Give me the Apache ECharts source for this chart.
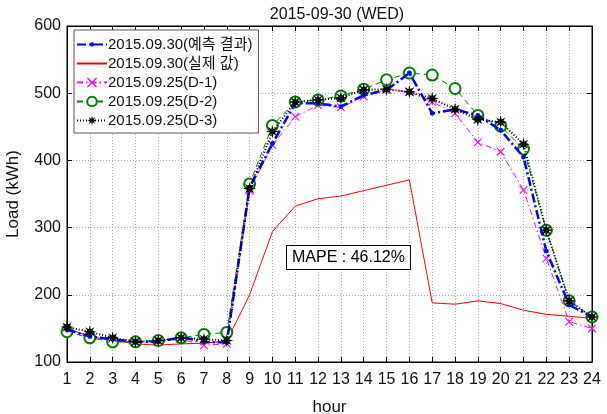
<!DOCTYPE html>
<html><head><meta charset="utf-8">
<script src="https://cdn.jsdelivr.net/npm/echarts@6/dist/echarts.min.js"></script>
<style>html,body{margin:0;padding:0;background:#fff}#c{width:607px;height:414px}</style>
</head><body><div id="c"></div>
<script>
const hours = [1,2,3,4,5,6,7,8,9,10,11,12,13,14,15,16,17,18,19,20,21,22,23,24];
const predicted = [148,138,134,130,130,137,130,129,360,425,485,485,480,497,505,530,470,476,467,445,405,265,185,167];
const actual = [150,138,132,127,125,127,128,131,200,294,332,343,347,355,363,371,188,186,191,187,177,171,168,165];
const d1 = [150,138,133,130,130,134,125,127,355,423,465,482,479,495,505,502,487,470,427,413,356,254,160,150];
const d2 = [145,136,130,130,132,136,141,144,365,452,487,490,496,506,520,530,527,507,467,451,417,296,191,167];
const d3 = [152,145,136,130,132,136,134,132,358,443,487,490,493,505,506,502,492,476,461,457,424,296,191,167];
const yTicks = [100,200,300,400,500,600];
const names = ['2015.09.30(예측 결과)','2015.09.30(실제 값)','2015.09.25(D-1)','2015.09.25(D-2)','2015.09.25(D-3)'];
const mapeText = 'MAPE : 46.12%';

function pairs(v){ return hours.map((h,i)=>[h,v[i]]); }
function starPath(){
  let p=[];
  for(let i=0;i<16;i++){
    const a=i*Math.PI/8 - Math.PI/2; const r=(i%2===0)?10:4.2;
    p.push((i===0?'M':'L')+(10+r*Math.cos(a)).toFixed(2)+' '+(10+r*Math.sin(a)).toFixed(2));
  }
  return 'path://'+p.join(' ')+' Z';
}
const crossPath='path://M0 0 L2 0 L10 8 L18 0 L20 0 L20 2 L12 10 L20 18 L20 20 L18 20 L10 12 L2 20 L0 20 L0 18 L8 10 L0 2 Z';
const dotPath='path://M0 0 L0.01 0 L0 0.01 Z M20 20 L19.99 20 L20 19.99 Z M5.5 10 A4.5 4.5 0 1 1 14.5 10 A4.5 4.5 0 1 1 5.5 10 Z';
const FONT='"Liberation Sans", Arial, "Noto Sans CJK KR", sans-serif';
const chart = echarts.init(document.getElementById('c'));
const axisCommon = {
  axisLine:{show:true,onZero:false,lineStyle:{color:'#000',width:1}},
  axisTick:{show:true,inside:true,length:5,lineStyle:{color:'#000'}},
  axisLabel:{color:'#111',fontSize:16,fontFamily:FONT},
  splitLine:{show:true,lineStyle:{color:'#a8a8a8',type:[1,2],width:1}}
};
chart.setOption({
  animation:false,
  backgroundColor:'#fff',
  title:{text:'2015-09-30 (WED)',left:332,textAlign:'center',top:2,textStyle:{fontSize:16,fontWeight:'normal',color:'#111',fontFamily:FONT}},
  grid:{left:67,right:15,top:26,bottom:52,show:true,borderColor:'#000',borderWidth:1,backgroundColor:'transparent',outerBoundsMode:'none',containLabel:false},
  legend:{
    orient:'vertical',left:74,top:30,itemWidth:30,itemHeight:12,itemGap:4,
    backgroundColor:'#fff',borderColor:'#555',borderWidth:1,padding:[7,6,5,2],
    textStyle:{fontSize:15,color:'#111',fontFamily:FONT,padding:[0,0,0,-4]},
    data:[names[0],{name:names[1],itemStyle:{opacity:0}},names[2],names[3],names[4]]
  },
  xAxis:[
    Object.assign({},axisCommon,{type:'value',min:1,max:24,interval:1,name:'hour',nameLocation:'middle',nameGap:37,
      nameTextStyle:{fontSize:17,color:'#111',fontFamily:FONT},axisLabel:Object.assign({},axisCommon.axisLabel,{margin:10})}),
    {type:'value',position:'top',min:1,max:24,interval:1,axisLine:{show:true,lineStyle:{color:'#000'}},axisTick:{show:true,inside:true,length:5,lineStyle:{color:'#000'}},axisLabel:{show:false},splitLine:{show:false}}
  ],
  yAxis:[
    Object.assign({},axisCommon,{type:'value',min:100,max:600,interval:100,name:'Load (kWh)',nameLocation:'middle',nameGap:45,
      nameTextStyle:{fontSize:17,color:'#111',fontFamily:FONT},axisLabel:Object.assign({},axisCommon.axisLabel,{margin:6,formatter:v=>yTicks.includes(v)?String(v):''})}),
    {type:'value',position:'right',min:100,max:600,interval:100,axisLine:{show:true,lineStyle:{color:'#000'}},axisTick:{show:true,inside:true,length:5,lineStyle:{color:'#000'}},axisLabel:{show:false},splitLine:{show:false}}
  ],
  series:[
    {name:names[1],type:'line',data:pairs(actual),showSymbol:false,symbol:'none',lineStyle:{color:'#ff0000',width:1},itemStyle:{color:'#ff0000'},z:2},
    {name:names[2],type:'line',data:pairs(d1),symbol:crossPath,symbolSize:8,lineStyle:{color:'#ff00ff',width:1,type:[6,3,1.5,3]},itemStyle:{color:'#ff00ff'},z:3},
    {name:names[3],type:'line',data:pairs(d2),symbol:'emptyCircle',symbolSize:11,lineStyle:{color:'#008000',width:1,type:[6,4]},itemStyle:{color:'#008000',borderWidth:1.2},z:4},
    {name:names[0],type:'line',data:pairs(predicted),symbol:dotPath,symbolSize:11,lineStyle:{color:'#0000ff',width:2.5,type:[9,3,2,3]},itemStyle:{color:'#0000ff'},z:5},
    {name:names[4],type:'line',data:pairs(d3),symbol:starPath(),symbolSize:13,lineStyle:{color:'#000',width:2,type:[1,2]},itemStyle:{color:'#000'},z:6}
  ],
  graphic:[{type:'text',left:286,top:245,z:100,style:{text:mapeText,fontSize:16,fill:'#000',fontFamily:FONT,backgroundColor:'#fff',borderColor:'#000',borderWidth:1,padding:[4,5,3,5]}}]
});
</script></body></html>
